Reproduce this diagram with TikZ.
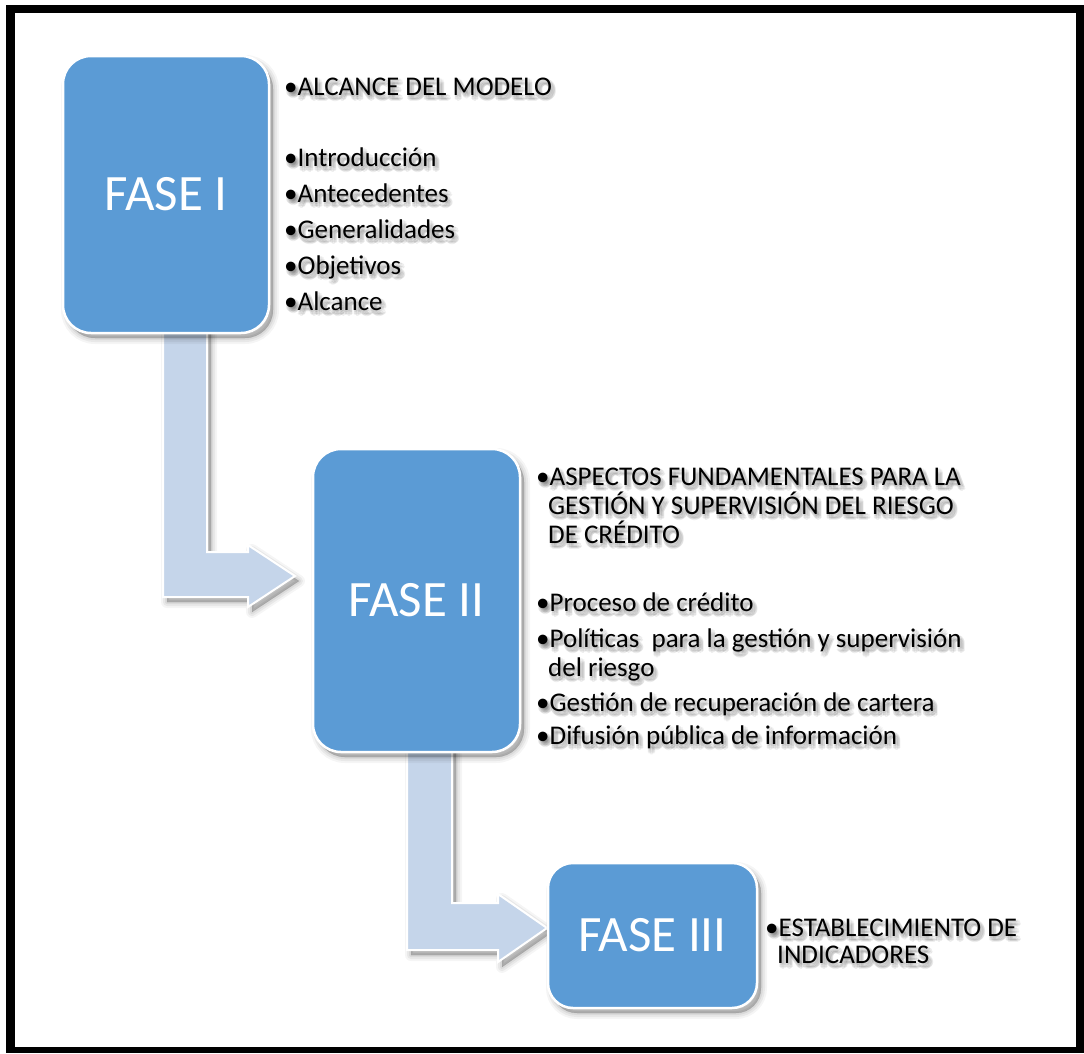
\documentclass[tikz,border=0pt]{standalone}
\usepackage{fontspec}
\setmainfont{Carlito}

\definecolor{boxblue}{HTML}{5B9BD5}
\definecolor{arrowblue}{HTML}{C5D5EA}

\tikzset{
  % soft shadow to the lower right, built from stacked translucent copies
  softshadow/.style={
    preaction={fill=black, draw=black, opacity=0.04, line width=12pt, line join=round,
               transform canvas={shift={(4pt,-5pt)}}},
    preaction={fill=black, draw=black, opacity=0.05, line width=8pt, line join=round,
               transform canvas={shift={(4pt,-5pt)}}},
    preaction={fill=black, draw=black, opacity=0.06, line width=4pt, line join=round,
               transform canvas={shift={(4pt,-5pt)}}},
    preaction={fill=black, draw=black, opacity=0.08, line width=0.5pt, line join=round,
               transform canvas={shift={(4pt,-5pt)}}}},
  phase/.style={softshadow, rectangle, rounded corners=28pt, fill=boxblue, draw=white,
                line width=2.5pt, text=white, inner sep=0pt,
                font=\fontsize{51}{51}\selectfont},
  bendarrow/.style={softshadow, fill=arrowblue, draw=white, line width=2pt},
  itemtext/.style={anchor=base west, inner sep=0pt, font=\fontsize{27}{30}\selectfont,
                   text=black},
}

% one line of list text with a blurred drop shadow
\newcommand\itemline[3]{%
  \foreach \dx/\dy [count=\k] in {2.5/4,0/4,5/4,2.5/1.5,2.5/6.5,0.8/2.2,4.2/2.2,0.8/5.8,4.2/5.8}
    \node[itemtext, text=black!80, text opacity=0.08] (#1s\k) at ([shift={(\dx,\dy)}]#2) {#3};
  \node[itemtext] (#1) at (#2) {#3};}

\begin{document}
\begin{tikzpicture}[x=1pt, y=-1pt]
  \useasboundingbox (0,0) rectangle (1084,1053);

  % black frame
  \fill[black] (6,5) rectangle (1084,1053);
  \fill[white] (15,13) rectangle (1076,1047);

  % bent block arrows between the phases
  \filldraw[bendarrow] (163,320) -- (163,597) -- (248,597) -- (248,607) -- (295,576)
    -- (248,545) -- (248,552) -- (207,552) -- (207,320) -- cycle;
  \filldraw[bendarrow] (407,740) -- (407,950) -- (498,950) -- (498,962) -- (547,928)
    -- (498,894) -- (498,903) -- (452,903) -- (452,740) -- cycle;

  % phase boxes
  \node[phase, minimum width=206pt, minimum height=277pt] (f1) at (166,194.5) {FASE I};
  \node[phase, minimum width=207pt, minimum height=303pt] (f2) at (416.5,600.5) {FASE II};
  \node[phase, rounded corners=25pt, minimum width=209pt, minimum height=145pt]
    (f3) at (652.5,935.5) {FASE III};

  % phase I contents
  \itemline{a1}{284,95}{•ALCANCE DEL MODELO}
  \itemline{a2}{284,166}{•Introducción}
  \itemline{a3}{284,202}{•Antecedentes}
  \itemline{a4}{284,238}{•Generalidades}
  \itemline{a5}{284,274}{•Objetivos}
  \itemline{a6}{284,310}{•Alcance}

  % phase II contents
  \itemline{b1}{536,485}{•ASPECTOS FUNDAMENTALES PARA LA}
  \itemline{b2}{548,514}{GESTIÓN Y SUPERVISIÓN DEL RIESGO}
  \itemline{b3}{548,543}{DE CRÉDITO}
  \itemline{b4}{536,611}{•Proceso de crédito}
  \itemline{b5}{536,647}{•Políticas~ para la gestión y supervisión}
  \itemline{b6}{548,676}{del riesgo}
  \itemline{b7}{536,711}{•Gestión de recuperación de cartera}
  \itemline{b8}{536,744}{•Difusión pública de información}

  % phase III contents
  \itemline{c1}{765,936}{•ESTABLECIMIENTO DE}
  \itemline{c2}{777,963}{INDICADORES}
\end{tikzpicture}
\end{document}
